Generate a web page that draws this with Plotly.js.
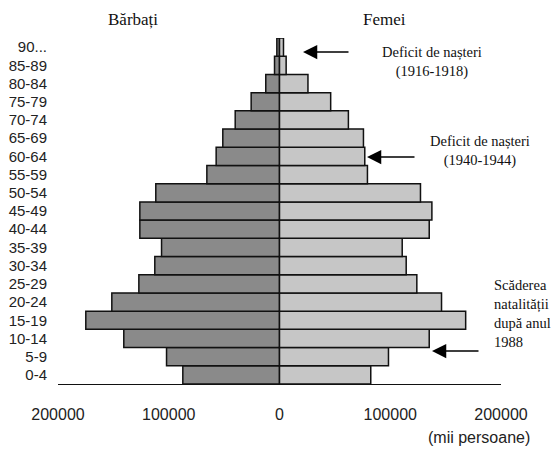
<!DOCTYPE html>
<html>
<head>
<meta charset="utf-8">
<script src="https://cdn.plot.ly/plotly-3.0.1.min.js"></script>
<style>html,body{margin:0;padding:0;background:#fff;}#chart{width:560px;height:454px;}</style>
</head>
<body>
<div id="chart"></div>
<script>
const ageGroups = ['0-4','5-9','10-14','15-19','20-24','25-29','30-34','35-39','40-44','45-49','50-54','55-59','60-64','65-69','70-74','75-79','80-84','85-89','90...'];
const men   = [87300,102000,140600,174900,151400,127000,112600,106500,126100,126100,111700,65600,57200,51200,40000,25600,12400,4500,2400];
const women = [82400,98400,135200,168100,146300,124000,114400,110800,135200,137600,127300,79400,77000,75800,62200,46200,25700,6000,3600];
const tickVals = [-200000,-100000,0,100000,200000];
const tickText = ['200000','100000','0','100000','200000'];

const W = 560, H = 454;
const M = {l:58, r:59, t:38, b:70};
const pw = W - M.l - M.r, ph = H - M.t - M.b;
const px = x => (x - M.l) / pw;
const py = y => (H - M.b - y) / ph;

const serifFam = '"Liberation Serif", "Times New Roman", serif';
const serif = {family:serifFam, size:14.5, color:'#111'};
const head = {family:serifFam, size:17, color:'#111'};
const sans = '"Liberation Sans", Arial, sans-serif';

const traces = [
  {type:'bar', orientation:'h', y:ageGroups, x:men.map(v=>-v), name:'Bărbați',
   marker:{color:'#8a8a8a', line:{color:'#111', width:1.5}}, hoverinfo:'skip'},
  {type:'bar', orientation:'h', y:ageGroups, x:women, name:'Femei',
   marker:{color:'#c6c6c6', line:{color:'#111', width:1.5}}, hoverinfo:'skip'}
];

function arrow(tailX, tipX, y){
  return {xref:'paper', yref:'paper', x:px(tipX), y:py(y), ax:tailX-tipX, ay:0,
    text:'', showarrow:true, arrowhead:2, arrowsize:1.9, arrowwidth:1.5, arrowcolor:'#000', standoff:0};
}

const annotations = [
  {xref:'paper', yref:'paper', x:px(133), y:py(19), text:'Bărbați', showarrow:false, font:head, xanchor:'center', yanchor:'middle'},
  {xref:'paper', yref:'paper', x:px(384), y:py(19), text:'Femei', showarrow:false, font:head, xanchor:'center', yanchor:'middle'},
  {xref:'paper', yref:'paper', x:px(432), y:py(62), text:'Deficit de nașteri<br>(1916-1918)', showarrow:false, font:serif, xanchor:'center', yanchor:'middle', align:'center'},
  {xref:'paper', yref:'paper', x:px(480), y:py(151), text:'Deficit de nașteri<br>(1940-1944)', showarrow:false, font:serif, xanchor:'center', yanchor:'middle', align:'center'},
  {xref:'paper', yref:'paper', x:px(492), y:py(313), text:'Scăderea<br>natalității<br>după anul<br>1988', showarrow:false, font:serif, xanchor:'left', yanchor:'middle', align:'left'},
  {xref:'paper', yref:'paper', x:px(479), y:py(437), text:'(mii persoane)', showarrow:false, font:{family:sans, size:16, color:'#222'}, xanchor:'center', yanchor:'middle'},
  arrow(350, 303, 52),
  arrow(416, 367, 157),
  arrow(480, 432, 351)
];

const layout = {
  width:W, height:H, margin:M,
  paper_bgcolor:'#fff', plot_bgcolor:'#fff',
  barmode:'relative', bargap:0,
  showlegend:false,
  xaxis:{range:[-200000,200000], tickmode:'array', tickvals:tickVals, ticktext:tickText,
    showgrid:false, zeroline:false, showline:true, linecolor:'#111', linewidth:1,
    ticks:'', ticklabelstandoff:16, tickfont:{family:sans, size:16, color:'#222'}, fixedrange:true},
  yaxis:{type:'category', categoryorder:'array', categoryarray:ageGroups,
    tickmode:'array', tickvals:ageGroups, ticktext:ageGroups,
    showgrid:false, zeroline:false, showline:false, ticks:'', ticklabelstandoff:10,
    tickfont:{family:sans, size:15, color:'#222'}, fixedrange:true},
  annotations:annotations
};

Plotly.newPlot('chart', traces, layout, {staticPlot:true, displayModeBar:false});
</script>
</body>
</html>
